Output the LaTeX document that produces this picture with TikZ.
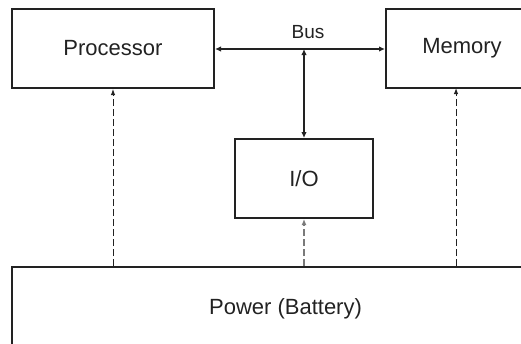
\documentclass[tikz,border=0pt]{standalone}
\usepackage{fontspec}
\setmainfont{Liberation Sans}
\usetikzlibrary{arrows.meta}
\definecolor{ink}{HTML}{222222}
\definecolor{dgray}{HTML}{7A7A7A}
\tikzset{
  block/.style={draw=ink, line width=2pt, rectangle, inner sep=0pt, text=ink,
    font=\fontsize{22}{24}\selectfont},
  bus/.style={draw=ink, line width=1.8pt, {Latex[length=6pt,width=5.5pt]}-{Latex[length=6pt,width=5.5pt]}},
  power/.style={draw=ink, line width=1pt, dash pattern=on 7pt off 3pt, -{Latex[length=6pt,width=4.5pt]}},
  powergray/.style={draw=dgray, line width=1.5pt, dash pattern=on 7pt off 3pt, -{Latex[length=6pt,width=5pt]}},
}
\begin{document}
\begin{tikzpicture}[x=1pt,y=-1pt]
\useasboundingbox (0,0) rectangle (521,343);
\clip (0,0) rectangle (521,343);
\node[block, minimum width=202pt, minimum height=79pt] (proc) at (113,48.5) {Processor};
\node[block, minimum width=152pt, minimum height=79pt] (mem) at (462,48.5) {Memory};
\node[block, minimum width=138pt, minimum height=79pt] (io) at (304,178.5) {I/O};
\node[block, minimum width=547pt, minimum height=84pt] (pwr) at (285.5,309) {Power (Battery)};
\coordinate (junc) at (304,49);
\coordinate (mtap) at (456,88);
\draw[bus] (proc.east |- junc) -- (mem.west |- junc);
\node[text=ink, font=\fontsize{19}{21}\selectfont] (buslbl) at (308,32) {Bus};
\draw[bus] (junc) -- (io.north);
\draw[power] (pwr.north -| proc.south) -- (proc.south);
\draw[power] (pwr.north -| mtap) -- (mtap);
\draw[powergray] (pwr.north -| io.south) -- (io.south);
\end{tikzpicture}
\end{document}
